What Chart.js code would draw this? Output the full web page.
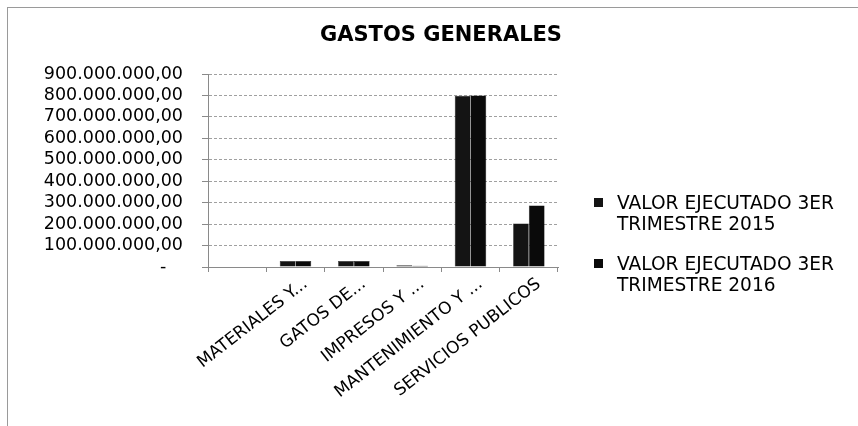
<!DOCTYPE html>
<html>
<head>
<meta charset="utf-8">
<title>GASTOS GENERALES</title>
<script src="https://cdn.jsdelivr.net/npm/chart.js@4.4.1/dist/chart.umd.min.js"></script>
<style>
    body { margin: 0; background: #fff; }
    #wrap { position: relative; width: 858px; height: 426px; overflow: hidden; }
    #frame { position: absolute; left: 7px; top: 7px; width: 860px; height: 430px;
             border-left: 1px solid #9a9a9a; border-top: 1px solid #9a9a9a; }
    #chart { position: absolute; left: 0; top: 0; }
    #title { position: absolute; left: 241px; width: 400px; top: 22px; text-align: center;
             font: bold 21px "DejaVu Sans", sans-serif; color: #000; }
    #legend { position: absolute; left: 594px; top: 192px; font: 18.6px "DejaVu Sans", sans-serif; color: #000; }
    .item { position: relative; padding-left: 23px; line-height: 21px; margin-bottom: 19px; }
    .box { position: absolute; left: 0; top: 6px; width: 9px; height: 9px; }
</style>
</head>
<body>
<div id="wrap">
    <div id="frame"></div>
    <canvas id="chart" width="858" height="426"></canvas>
    <div id="title">GASTOS GENERALES</div>
    <div id="legend"></div>
</div>
<script>
const chartTitle = 'GASTOS GENERALES';
const categories = ['', 'MATERIALES Y...', 'GATOS DE...', 'IMPRESOS Y ...', 'MANTENIMIENTO Y ...', 'SERVICIOS PUBLICOS'];
const seriesNames = [
    ['VALOR EJECUTADO 3ER', 'TRIMESTRE 2015'],
    ['VALOR EJECUTADO 3ER', 'TRIMESTRE 2016']
];
const valores2015 = [0, 28000000, 28000000, 8000000, 798000000, 203000000];
const valores2016 = [0, 28000000, 28000000, 6000000, 800000000, 287000000];
const yTicks = [0, 100000000, 200000000, 300000000, 400000000, 500000000, 600000000, 700000000, 800000000, 900000000];
const seriesColors = ['#141414', '#0a0a0a'];

function formatPesos(value) {
    if (value === 0) return '-   ';
    return value.toString().replace(/\B(?=(\d{3})+(?!\d))/g, '.') + ',00';
}

function buildLegend() {
    const legend = document.getElementById('legend');
    seriesNames.forEach((lines, i) => {
        const item = document.createElement('div');
        item.className = 'item';
        const box = document.createElement('span');
        box.className = 'box';
        box.style.background = seriesColors[i];
        item.appendChild(box);
        lines.forEach(line => {
            const row = document.createElement('div');
            row.textContent = line;
            item.appendChild(row);
        });
        legend.appendChild(item);
    });
}

document.addEventListener('DOMContentLoaded', function () {
    document.getElementById('title').textContent = chartTitle;
    buildLegend();

    const ctx = document.getElementById('chart').getContext('2d');
    new Chart(ctx, {
        type: 'bar',
        data: {
            labels: categories,
            datasets: [
                { label: seriesNames[0].join(' '), data: valores2015, backgroundColor: seriesColors[0], borderColor: seriesColors[0], borderWidth: 0.5 },
                { label: seriesNames[1].join(' '), data: valores2016, backgroundColor: seriesColors[1], borderColor: seriesColors[1], borderWidth: 0.5 }
            ]
        },
        options: {
            responsive: false,
            animation: false,
            devicePixelRatio: 1,
            categoryPercentage: 0.54,
            barPercentage: 1,
            layout: { padding: { left: 8, right: 300, top: 74, bottom: 0 } },
            plugins: {
                legend: { display: false },
                title: { display: false },
                tooltip: { enabled: false }
            },
            scales: {
                x: {
                    afterFit(scale) { scale.height = 159; },
                    grid: { offset: true, drawOnChartArea: false, tickLength: 5, color: '#8a8a8a' },
                    border: { display: true, color: '#8a8a8a' },
                    ticks: {
                        autoSkip: false,
                        minRotation: 38,
                        maxRotation: 38,
                        padding: 2,
                        labelOffset: 10,
                        color: '#000',
                        font: { family: 'DejaVu Sans', size: 17 }
                    }
                },
                y: {
                    min: 0,
                    max: yTicks[yTicks.length - 1],
                    afterFit(scale) { scale.width = 200; },
                    afterBuildTicks(scale) { scale.ticks = yTicks.map(v => ({ value: v })); },
                    grid: { color: '#a0a0a0', tickLength: 6, tickColor: '#8a8a8a' },
                    border: { display: true, color: '#8a8a8a', dash: [3, 2] },
                    ticks: {
                        autoSkip: false,
                        padding: 19,
                        color: '#000',
                        font: { family: 'DejaVu Sans', size: 17.5 },
                        callback: value => formatPesos(value)
                    }
                }
            }
        }
    });
});
</script>
</body>
</html>
